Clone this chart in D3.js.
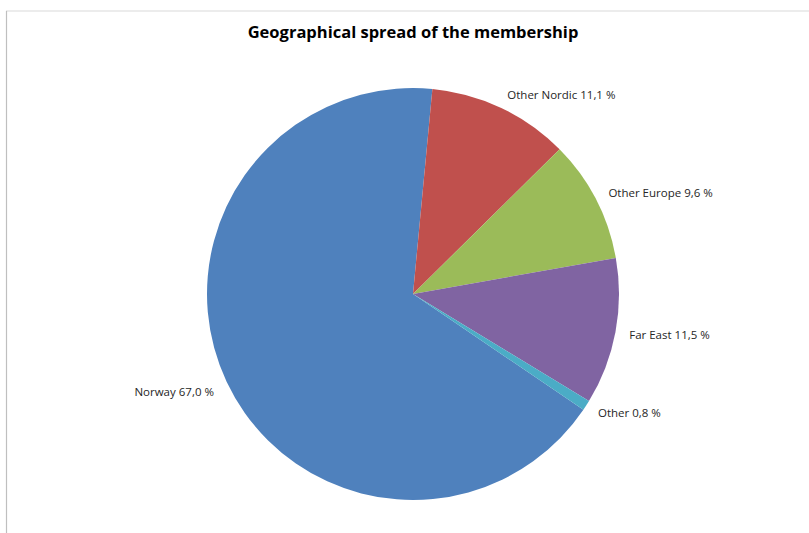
<!DOCTYPE html>
<html>
<head>
<meta charset="utf-8">
<script src="https://cdn.jsdelivr.net/npm/d3@7"></script>
<style>
  html, body { margin: 0; padding: 0; background: #fff; }
  svg { display: block; }
</style>
</head>
<body>
<svg id="chart" width="809" height="533"></svg>
<script>
const categories = ["Norway", "Other Nordic", "Other Europe", "Far East", "Other"];
const values = [67.0, 11.1, 9.6, 11.5, 0.8];
const valueLabels = ["67,0 %", "11,1 %", "9,6 %", "11,5 %", "0,8 %"];
const colors = ["#4F81BD", "#C0504D", "#9BBB59", "#8064A2", "#4BACC6"];
const title = "Geographical spread of the membership";

const svg = d3.select("#chart");
const W = 809, H = 533;
const cx = 413, cy = 294, r = 206;

// chart frame
svg.append("line").attr("x1", 6).attr("y1", 11).attr("x2", W).attr("y2", 11)
  .attr("stroke", "#d9d9d9").attr("stroke-width", 1);
svg.append("line").attr("x1", 6.5).attr("y1", 11).attr("x2", 6.5).attr("y2", H)
  .attr("stroke", "#bfbfbf").attr("stroke-width", 1.2);

svg.append("text")
  .attr("x", 413).attr("y", 34)
  .attr("text-anchor", "middle").attr("dominant-baseline", "middle")
  .attr("font-family", "'Open Sans', sans-serif")
  .attr("font-weight", "bold").attr("font-size", 16.5)
  .attr("fill", "#000")
  .text(title);

const offset = (5.4 - 0.67 * 360) * Math.PI / 180;
const pie = d3.pie().sort(null).value(d => d.v)
  .startAngle(offset).endAngle(offset + 2 * Math.PI);
const data = categories.map((c, i) => ({ c, v: values[i], lab: valueLabels[i], col: colors[i] }));
const arcs = pie(data);
const arc = d3.arc().innerRadius(0).outerRadius(r);

const g = svg.append("g").attr("transform", `translate(${cx},${cy})`);
g.selectAll("path").data(arcs).enter().append("path")
  .attr("d", arc).attr("fill", d => d.data.col);

const lr = r + 14;
g.selectAll("text.lbl").data(arcs).enter().append("text")
  .attr("class", "lbl")
  .each(function(d) {
    const a = (d.startAngle + d.endAngle) / 2;
    const x = Math.sin(a) * lr, y = -Math.cos(a) * lr;
    const left = Math.sin(a) < 0;
    d3.select(this).attr("x", x).attr("y", y + (left ? 5 : 1))
      .attr("text-anchor", left ? "end" : "start");
  })
  .attr("dominant-baseline", "middle")
  .attr("font-family", "'Open Sans', sans-serif")
  .attr("font-size", 11.5)
  .attr("fill", "#262626")
  .text(d => d.data.c + " " + d.data.lab);
</script>
</body>
</html>
